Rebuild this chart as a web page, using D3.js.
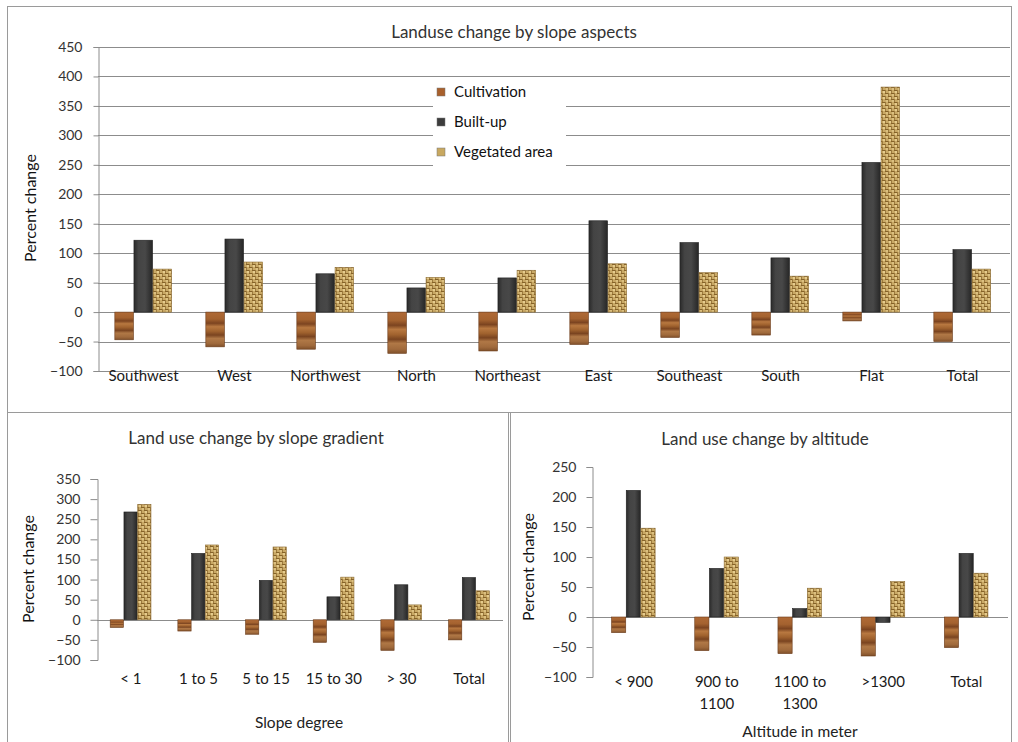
<!DOCTYPE html>
<html>
<head>
<meta charset="utf-8">
<script src="https://cdn.jsdelivr.net/npm/d3@7"></script>
<style>
  body { margin: 0; background: #fff; }
  svg { display: block; font-family: Lato, "Open Sans", sans-serif; }
</style>
</head>
<body>
<svg id="chart" width="1018" height="742"></svg>
<script>
// data
var seriesNames = ["Cultivation", "Built-up", "Vegetated area"];

var aspectCats = ["Southwest","West","Northwest","North","Northeast","East","Southeast","South","Flat","Total"];
var aspectCult = [-47, -59, -63, -70, -66, -55, -43, -39, -15, -50];
var aspectBuilt = [122, 124, 65, 41, 58, 155, 118, 92, 254, 106];
var aspectVeg = [73, 85, 76, 59, 71, 82, 67, 61, 382, 73];
var aspectTicks = [-100,-50,0,50,100,150,200,250,300,350,400,450];

var slopeCats = [["< 1"],["1 to 5"],["5 to 15"],["15 to 30"],["> 30"],["Total"]];
var slopeCult = [-19, -28, -36, -56, -76, -50];
var slopeBuilt = [268, 165, 98, 57, 87, 105];
var slopeVeg = [287, 186, 181, 106, 37, 72];
var slopeTicks = [-100,-50,0,50,100,150,200,250,300,350];

var altCats = [["< 900"],["900 to","1100"],["1100 to","1300"],[">1300"],["Total"]];
var altCult = [-26, -56, -61, -65, -51];
var altBuilt = [211, 81, 14, -9, 106];
var altVeg = [148, 100, 48, 59, 73];
var altTicks = [-100,-50,0,50,100,150,200,250];

var svg = d3.select("#chart");
var defs = svg.append("defs");

// wood look for cultivation
var wood = defs.append("linearGradient").attr("id", "wood")
  .attr("x1", 0).attr("y1", 0).attr("x2", 0).attr("y2", 1);
[[0,"#b06a36"],[0.2,"#a4622f"],[0.32,"#7c4420"],[0.42,"#b87840"],[0.55,"#a0622e"],
 [0.66,"#7a4420"],[0.76,"#b07846"],[0.9,"#a06a3c"],[1,"#80502a"]].forEach(function (s) {
  wood.append("stop").attr("offset", s[0]).attr("stop-color", s[1]);
});

// dark bevel for built-up
var dark = defs.append("linearGradient").attr("id", "dark")
  .attr("x1", 0).attr("y1", 0).attr("x2", 1).attr("y2", 0);
[[0,"#2a2a2a"],[0.25,"#444"],[0.6,"#484848"],[1,"#262626"]].forEach(function (s) {
  dark.append("stop").attr("offset", s[0]).attr("stop-color", s[1]);
});

// woven basket for vegetated area
var weave = defs.append("pattern").attr("id", "weave")
  .attr("patternUnits", "userSpaceOnUse").attr("width", 6).attr("height", 6);
weave.append("rect").attr("width", 6).attr("height", 6).attr("fill", "#c9a966");
weave.append("rect").attr("x", 0).attr("y", 0).attr("width", 3).attr("height", 1).attr("fill", "#856228");
weave.append("rect").attr("x", 3).attr("y", 3).attr("width", 3).attr("height", 1).attr("fill", "#856228");
weave.append("rect").attr("x", 3).attr("y", 0).attr("width", 1).attr("height", 3).attr("fill", "#9c7a3e");
weave.append("rect").attr("x", 0).attr("y", 3).attr("width", 1).attr("height", 3).attr("fill", "#9c7a3e");
weave.append("rect").attr("x", 1).attr("y", 1).attr("width", 2).attr("height", 2).attr("fill", "#e6cc8e");
weave.append("rect").attr("x", 4).attr("y", 4).attr("width", 2).attr("height", 2).attr("fill", "#dcc080");

var fills = ["url(#wood)", "url(#dark)", "url(#weave)"];
var legendFills = ["#a8602c", "#3c3c3c", "#c8a860"];

// panel frames
svg.append("rect").attr("x", 7.5).attr("y", 6.5).attr("width", 1004).attr("height", 406)
  .attr("fill", "none").attr("stroke", "#9a9a9a");
svg.append("rect").attr("x", 7.5).attr("y", 412.5).attr("width", 501).attr("height", 330)
  .attr("fill", "none").attr("stroke", "#9a9a9a");
svg.append("rect").attr("x", 510.5).attr("y", 412.5).attr("width", 501).attr("height", 330)
  .attr("fill", "none").attr("stroke", "#9a9a9a");

function drawChart(cfg) {
  var g = svg.append("g");
  var cats = cfg.cats.map(function (c, i) { return i; });
  var x = d3.scaleBand().domain(cats).range([cfg.left, cfg.right])
    .paddingInner(cfg.pad).paddingOuter(cfg.pad / 2);
  var xs = d3.scaleBand().domain([0, 1, 2]).range([0, x.bandwidth()]);
  var y = d3.scaleLinear().domain(cfg.domain).range([cfg.bottom, cfg.top]);

  if (cfg.grid) {
    g.selectAll("line.grid").data(cfg.ticks).enter().append("line")
      .attr("class", "grid")
      .attr("x1", cfg.left).attr("x2", cfg.gridRight)
      .attr("y1", function (d) { return Math.round(y(d)) + 0.5; })
      .attr("y2", function (d) { return Math.round(y(d)) + 0.5; })
      .attr("stroke", "#8c8c8c").attr("stroke-width", 1);
  } else {
    g.append("line")
      .attr("x1", cfg.left).attr("x2", cfg.gridRight)
      .attr("y1", Math.round(y(0)) + 0.5).attr("y2", Math.round(y(0)) + 0.5)
      .attr("stroke", "#8c8c8c");
  }

  var yAxis = g.append("g").attr("transform", "translate(" + (cfg.left + 0.5) + ",0)")
    .call(d3.axisLeft(y).tickValues(cfg.ticks).tickSize(cfg.tickSize).tickPadding(cfg.tickPad));
  yAxis.select(".domain").attr("stroke", "#8c8c8c");
  yAxis.selectAll(".tick line").attr("stroke", "#8c8c8c");
  yAxis.selectAll("text").attr("fill", "#333").style("font-size", cfg.tickFont + "px")
    .style("font-family", "Lato, sans-serif");

  if (cfg.legend) {
    g.append("rect").attr("x", 433).attr("y", 80).attr("width", 133).attr("height", 86).attr("fill", "#fff");
    var lg = g.selectAll("g.leg").data(seriesNames).enter().append("g")
      .attr("transform", function (d, i) { return "translate(437," + (92 + i * 30) + ")"; });
    lg.append("rect").attr("x", 0).attr("y", -4).attr("width", 8).attr("height", 8)
      .attr("fill", function (d, i) { return legendFills[i]; })
      .attr("stroke", "#777").attr("stroke-width", 0.5);
    lg.append("text").attr("x", 17).attr("dy", "0.35em").text(function (d) { return d; })
      .style("font-size", "15px").attr("fill", "#111");
  }

  var series = [cfg.cult, cfg.built, cfg.veg];
  series.forEach(function (vals, s) {
    g.selectAll("rect.s" + s).data(vals).enter().append("rect")
      .attr("class", "s" + s)
      .attr("x", function (d, i) { return x(i) + xs(s); })
      .attr("width", xs.bandwidth() - 0.5)
      .attr("y", function (d) { return y(Math.max(0, d)); })
      .attr("height", function (d) { return Math.abs(y(d) - y(0)); })
      .attr("fill", fills[s])
      .attr("stroke", s === 1 ? "#1e1e1e" : (s === 0 ? "#6a3a18" : "#8c6c34"))
      .attr("stroke-width", 0.6);
  });

  // x labels
  var lab = g.selectAll("text.xl").data(cfg.cats).enter().append("text")
    .attr("class", "xl")
    .attr("x", function (d, i) { return x(i) + x.bandwidth() / 2; })
    .attr("y", cfg.labelY)
    .attr("text-anchor", "middle")
    .attr("fill", "#1a1a1a")
    .style("font-size", cfg.labelFont + "px");
  lab.each(function (d) {
    var t = d3.select(this);
    var lines = Array.isArray(d) ? d : [d];
    lines.forEach(function (ln, k) {
      t.append("tspan").attr("x", t.attr("x")).attr("dy", k === 0 ? "0.35em" : "1.45em").text(ln);
    });
  });

  g.append("text").attr("x", cfg.titleX).attr("y", cfg.titleY).attr("text-anchor", "middle")
    .attr("dy", "0.35em").attr("fill", "#333").style("font-size", cfg.titleFont + "px")
    .text(cfg.title);

  g.append("text").attr("transform", "translate(" + cfg.ylabX + "," + cfg.ylabY + ") rotate(-90)")
    .attr("text-anchor", "middle").attr("dy", "0.35em").attr("fill", "#111")
    .style("font-size", "16px").text("Percent change");

  if (cfg.xTitle) {
    g.append("text").attr("x", cfg.xTitleX).attr("y", cfg.xTitleY).attr("text-anchor", "middle")
      .attr("dy", "0.35em").attr("fill", "#222").style("font-size", "15.5px").text(cfg.xTitle);
  }
}

drawChart({
  cats: aspectCats, cult: aspectCult, built: aspectBuilt, veg: aspectVeg, ticks: aspectTicks,
  left: 98, right: 1008, gridRight: 1010, pad: 0.37,
  domain: [-100, 450], top: 47, bottom: 371, grid: true,
  tickSize: 5, tickPad: 11, tickFont: 14, legend: true,
  labelY: 376, labelFont: 15,
  title: "Landuse change by slope aspects", titleX: 514, titleY: 32, titleFont: 17,
  ylabX: 30, ylabY: 208
});

drawChart({
  cats: slopeCats, cult: slopeCult, built: slopeBuilt, veg: slopeVeg, ticks: slopeTicks,
  left: 97, right: 503, gridRight: 503, pad: 0.39,
  domain: [-100, 350], top: 479, bottom: 660, grid: false,
  tickSize: 7, tickPad: 10, tickFont: 14,
  labelY: 679, labelFont: 15,
  title: "Land use change by slope gradient", titleX: 256, titleY: 438, titleFont: 17,
  ylabX: 28, ylabY: 569,
  xTitle: "Slope degree", xTitleX: 299, xTitleY: 723
});

drawChart({
  cats: altCats, cult: altCult, built: altBuilt, veg: altVeg, ticks: altTicks,
  left: 592, right: 1008, gridRight: 1008, pad: 0.47,
  domain: [-100, 250], top: 467, bottom: 677, grid: false,
  tickSize: 6, tickPad: 10, tickFont: 14,
  labelY: 682, labelFont: 15,
  title: "Land use change by altitude", titleX: 765, titleY: 439, titleFont: 17,
  ylabX: 528, ylabY: 567,
  xTitle: "Altitude in meter", xTitleX: 800, xTitleY: 732
});
</script>
</body>
</html>
